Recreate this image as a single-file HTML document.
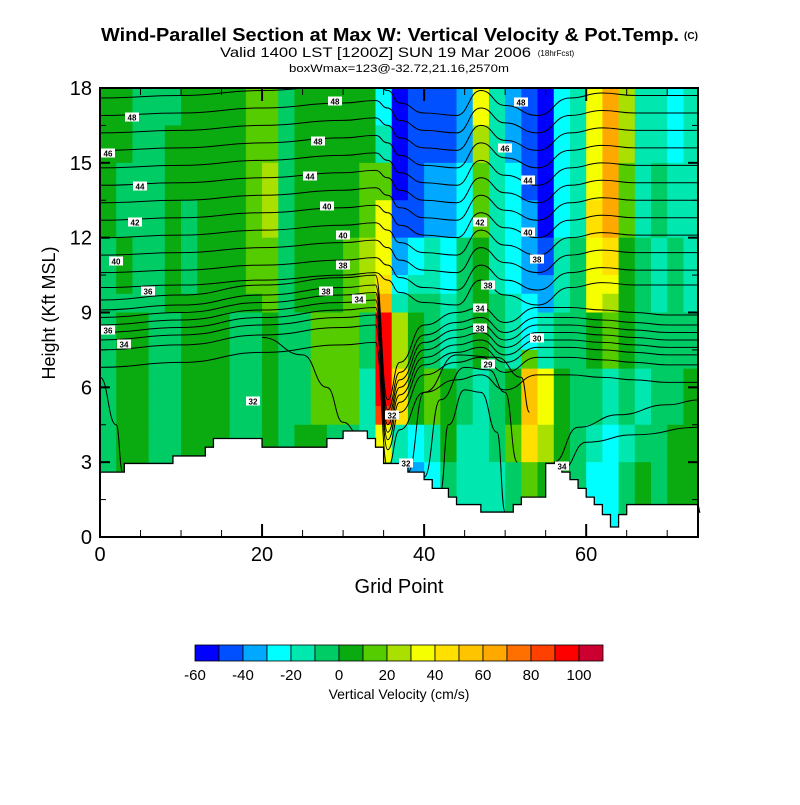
<!DOCTYPE html>
<html><head><meta charset="utf-8">
<style>
body{margin:0;background:#fff;}
svg text{font-family:"Liberation Sans",sans-serif;}
</style></head>
<body>
<svg id="chart" width="800" height="800" viewBox="0 0 800 800">
<defs><clipPath id="plotclip"><rect x="100" y="88" width="598" height="449"/></clipPath></defs>
<g id="title">
<text x="101" y="41" font-size="18" font-weight="bold" textLength="578" lengthAdjust="spacingAndGlyphs">Wind-Parallel Section at Max W: Vertical Velocity &amp; Pot.Temp.</text>
<text x="691" y="39" font-size="10" font-weight="bold" text-anchor="middle">(C)</text>
<text x="220" y="57" font-size="14" textLength="311" lengthAdjust="spacingAndGlyphs">Valid 1400 LST [1200Z] SUN 19 Mar 2006</text>
<text x="556" y="56" font-size="8" text-anchor="middle">(18hrFcst)</text>
<text x="289" y="72" font-size="11" textLength="220" lengthAdjust="spacingAndGlyphs">boxWmax=123@-32.72,21.16,2570m</text>
</g>
<g id="field" clip-path="url(#plotclip)"></g>
<g id="contours" clip-path="url(#plotclip)"></g>
<g id="terrain"></g>
<g id="labels"></g>
<g id="axes"></g>
<g id="cbar"></g>
<text x="399" y="593" font-size="20" text-anchor="middle">Grid Point</text>
<text transform="translate(55,313) rotate(-90)" font-size="18" text-anchor="middle">Height (Kft MSL)</text>
<text x="399" y="699" font-size="14" text-anchor="middle">Vertical Velocity (cm/s)</text>
</svg>
<script>
// ---- data ----
const palette=["#0000ff","#0050ff","#00a8ff","#00ffff","#00e8b0","#00cc66","#0aab10","#55cc00","#aae000","#f5ff00","#ffe000","#ffc400","#ffa800","#ff7000","#ff4000","#ff0000","#cc0030"];
const cbarTicks=[-60,-40,-20,0,20,40,60,80,100];
const fieldRows=[
"66555666677566666"+"3"+"0111294210349c84434",
"66555666677566666"+"3"+"0111294210349c84434",
"66556666677566666"+"4"+"0111284210349c84434",
"66556666677566666"+"4"+"0111284210349c84434",
"65556666678566667"+"7"+"0122374310349c74544",
"65556666678566667"+"7"+"0122374310349c74544",
"65556566678566667"+"9"+"112237432034ac74544",
"65556566678566667"+"9"+"112237432034ac74544",
"56556566677566678"+"9"+"2343564321459a65454",
"56556566677566678"+"9"+"2343564321459a65454",
"56556566677566678"+"a"+"3443564322459965454",
"55556666667566677"+"c"+"4554565432459865454",
"56655666556557775"+"f"+"8654565434556765555",
"56655666556557775"+"f"+"8654565434556765555",
"56655666556557775"+"f"+"8654565474556765555",
"56655666556557774"+"f"+"a6765456b9655454556",
"56655666556557774"+"f"+"a6765456b9655454556",
"56655666556557774"+"e"+"a6765456b9655454556",
"56655666556566554"+"9"+"43464457a8654345566",
"56655666556566554"+"9"+"43464457a8654345566",
"56655666556566555"+"7"+"3235444576653356566",
"56655666556566555"+"7"+"3235444576653356566",
"56655666556566555"+"7"+"3235444576653356566",
"56655666556566555"+"7"+"3235444576653356566"];
// terrain height (kft) per grid point 0..74
const terrainKft=[2.6,2.6,2.6,2.95,2.95,2.95,2.95,2.95,2.95,3.25,3.25,3.25,3.25,3.6,3.95,3.95,3.95,3.95,3.95,3.95,3.6,3.6,3.6,3.6,3.6,3.6,3.6,3.6,3.95,3.95,4.25,4.25,4.25,3.95,3.6,2.95,2.95,2.95,2.6,2.6,2.3,1.95,1.95,1.6,1.3,1.3,1.3,1.0,1.0,1.0,1.0,1.3,1.6,1.6,1.6,2.95,2.95,2.6,2.3,1.95,1.6,1.3,0.9,0.4,0.9,1.3,1.3,1.3,1.3,1.3,1.3,1.3,1.3,1.3,1.0];
const contourBases=[17.6,16.9,16.2,15.5,14.8,14.1,13.4,12.7,12.0,11.3,10.6,10.0,9.5,9.1,8.8,8.5,8.2,7.9,7.5,6.8];
const knotsX=[0,10,20,30,34,35.5,37,40,44,47,50,54,58,62,66,70,74];
const upperOffsets=[0,0.1,0.3,0.5,0.6,0.3,-0.2,-0.6,-0.7,0.3,-0.3,-0.7,0,0.2,0.1,0.1,0.1];
const lowerOffsets=[0,0.2,0.6,0.9,1.0,-4,-2.5,-1.0,-0.5,-0.3,-0.9,-0.3,-0.3,-0.4,-0.5,-0.6,-0.6];
const archA=[[42,1.8],[43,4.5],[45,5.9],[47,5.8],[49,4.2],[50,1.0]];
const archB=[[40,2.4],[42,5.5],[45,6.8],[48,6.7],[50,5.8],[51.5,3]];
const archC=[[38,2.6],[40,5.8],[44,7.3],[49,7.2],[52,6.4],[53,5]];
const archD=[[56,3],[59,4.4],[64,4.9],[70,5.3],[74,5.5]];
const archE=[[57,2.7],[60,3.8],[66,4.1],[74,4.4]];
const archF=[[0,6.4],[2,4.5],[2.8,2.6]];
const archG=[[20,8.0],[25,7.3],[28,6.0],[30,4.6],[32,4.1]];
const labelText=["48","48","46","44","42","40","36","36","34","48","44","40","40","38","38","34","32","32","32","48","46","44","42","40","38","38","34","38","30","29","34"];
const labelPos=[[335,101],[132,117],[108,153],[140,186],[135,222],[116,261],[148,291],[108,330],[124,344],[318,141],[310,176],[327,206],[343,235],[343,265],[326,291],[359,299],[253,401],[392,415],[406,463],[521,102],[505,148],[528,180],[480,222],[528,232],[537,259],[488,285],[480,308],[480,328],[537,338],[488,364],[562,466]];
const xTicks=[0,20,40,60];
const yTicks=[0,3,6,9,12,15,18];
// ---- scales ----
const X0=100,X1=698,Y0=537,Y1=88,GMAX=73.8,KMAX=18;
const sx=g=>X0+(X1-X0)*g/GMAX;
const sy=k=>Y0-(Y0-Y1)*k/KMAX;
const NS="http://www.w3.org/2000/svg";
function mk(tag,attrs,parent){const e=document.createElementNS(NS,tag);for(const k in attrs)e.setAttribute(k,attrs[k]);parent.appendChild(e);return e;}
// field
const field=document.getElementById('field');
const nR=fieldRows.length;
fieldRows.forEach((row,r)=>{
  const chars=row.slice(-37);
  for(let c=0;c<37;c++){
    const idx=parseInt(chars[c],17);
    const x=sx(2*c),w=sx(2*c+2)-x+0.6;
    const y=sy(KMAX-KMAX*r/nR),h=sy(KMAX-KMAX*(r+1)/nR)-y+0.6;
    const e=mk('rect',{x:x,y:y,width:w,height:h,fill:palette[idx]},field);
    
    
  }
});
// contours
const cg=document.getElementById('contours');
function smoothPath(pts){let d='M'+pts[0][0]+','+pts[0][1];for(let i=1;i<pts.length;i++){const p0=pts[i-1],p1=pts[i];const mx=(p0[0]+p1[0])/2;d+=' C'+mx+','+p0[1]+' '+mx+','+p1[1]+' '+p1[0]+','+p1[1];}return d;}
contourBases.forEach(b=>{
  const offs=b>=10?upperOffsets:lowerOffsets;
  const pts=knotsX.map((g,i)=>[sx(g),sy(b+offs[i])]);
  const p=mk('path',{d:smoothPath(pts),fill:'none',stroke:'#000','stroke-width':1},cg);
  
  
});
[archA,archB,archC,archD,archE,archF,archG].forEach(a=>{
  const p=mk('path',{d:smoothPath(a.map(q=>[sx(q[0]),sy(q[1])])),fill:'none',stroke:'#000','stroke-width':1},cg);
  
  
});
// terrain
const tg=document.getElementById('terrain');
let td='M'+sx(0)+','+Y0;
terrainKft.forEach((h,g)=>{td+=' L'+sx(g)+','+sy(h)+' L'+Math.min(sx(g+1),X1)+','+sy(h);});
td+=' L'+X1+','+Y0+' Z';
const tp=mk('path',{d:td,fill:'#fff',stroke:'#000','stroke-width':1.3},tg);


// labels
const lg=document.getElementById('labels');
labelText.forEach((t,i)=>{
  const [x,y]=labelPos[i];
  const r=mk('rect',{x:x-7,y:y-4.5,width:14,height:9,fill:'#fff'},lg);
  
  
  const tx=mk('text',{x:x,y:y+3.5,'font-size':8,'font-weight':'bold','text-anchor':'middle'},lg);
  tx.textContent=t;
  
  
});
// axes
const ag=document.getElementById('axes');
const fr=mk('rect',{x:X0,y:Y1,width:X1-X0,height:Y0-Y1,fill:'none',stroke:'#000','stroke-width':2},ag);


for(let k=0;k<=18;k+=1.5){
  const major=k%3===0,len=major?10:6,y=sy(k);
  const l1=mk('line',{x1:X0,x2:X0+len,y1:y,y2:y,stroke:'#000','stroke-width':major?2:1},ag);
  
  
  const l2=mk('line',{x1:X1,x2:X1-len,y1:y,y2:y,stroke:'#000','stroke-width':major?2:1},ag);
  
  
}
for(let g=0;g<=70;g+=5){
  const major=g%20===0,len=major?13:7,x=sx(g);
  const l1=mk('line',{x1:x,x2:x,y1:Y0,y2:Y0-len,stroke:'#000','stroke-width':major?2:1},ag);
  
  
  const l2=mk('line',{x1:x,x2:x,y1:Y1,y2:Y1+len,stroke:'#000','stroke-width':major?2:1},ag);
  
  
}
yTicks.forEach(k=>{
  const t=mk('text',{x:92,y:sy(k)+7,'font-size':20,'text-anchor':'end'},ag);
  t.textContent=k;
  
  
});
xTicks.forEach(g=>{
  const t=mk('text',{x:sx(g),y:561,'font-size':20,'text-anchor':'middle'},ag);
  t.textContent=g;
  
  
});
// colorbar
const cb=document.getElementById('cbar');
const CB0=195,CBW=24,CBY=645,CBH=16;
palette.forEach((c,i)=>{
  const r=mk('rect',{x:CB0+i*CBW,y:CBY,width:CBW,height:CBH,fill:c,stroke:'#000','stroke-width':0.8},cb);
  
  
});
cbarTicks.forEach(v=>{
  const t=mk('text',{x:CB0+(v+60)/10*CBW,y:680,'font-size':15,'text-anchor':'middle'},cb);
  t.textContent=v;
  
  
});
</script>
</body></html>
